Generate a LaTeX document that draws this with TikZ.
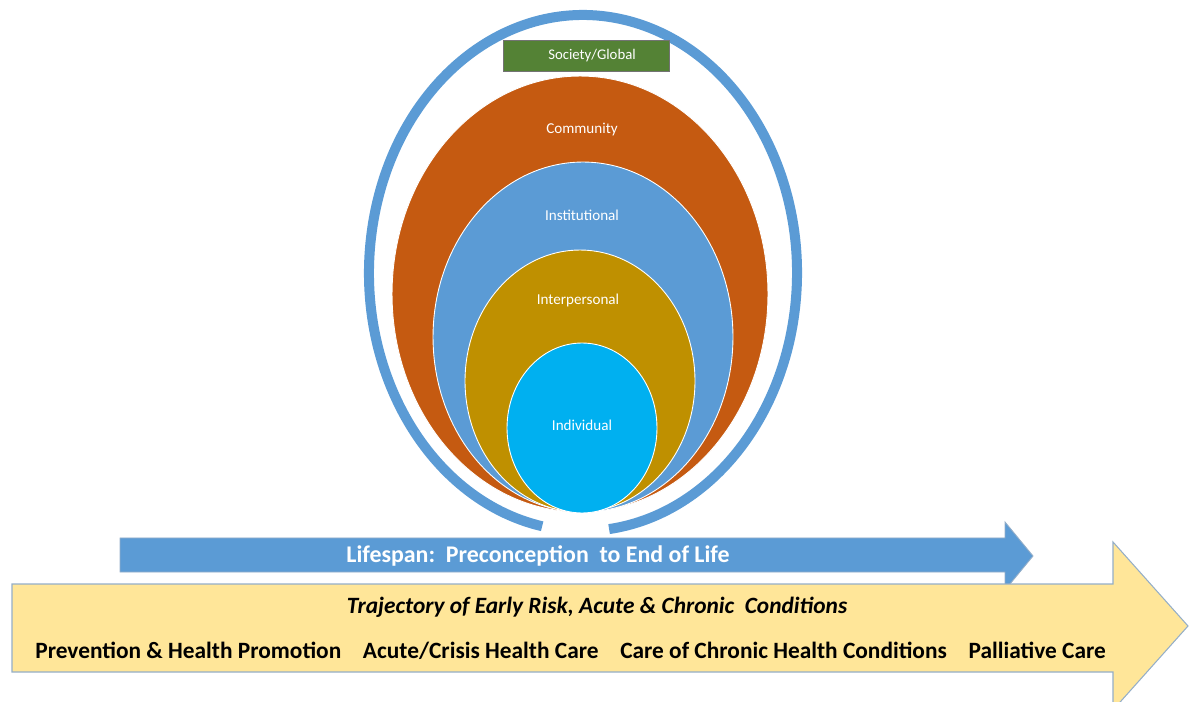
\documentclass[tikz,border=0pt]{standalone}
\usepackage{fontspec}
\setmainfont{Carlito}
\usetikzlibrary{shapes.geometric,positioning}

\definecolor{ringblue}{HTML}{5B9BD5}
\definecolor{commorange}{HTML}{C55A11}
\definecolor{instblue}{HTML}{5B9BD5}
\definecolor{intergold}{HTML}{BF9000}
\definecolor{indivcyan}{HTML}{00B0F0}
\definecolor{socgreen}{HTML}{548235}
\definecolor{trajyellow}{HTML}{FFE699}
\definecolor{edgegray}{HTML}{94AEC8}

\tikzstyle{layer} = [
	ellipse,
	draw=white,
	line width=0.5pt,
	inner sep=0pt
]
\tikzstyle{layerlabel} = [
	text=white,
	inner sep=0pt,
	font=\fontsize{8.6}{10}\selectfont
]
\tikzstyle{phase} = [
	inner sep=0pt,
	text height=10pt,
	text depth=3pt,
	font=\fontsize{13.3}{16}\selectfont\bfseries
]

\begin{document}
\begin{tikzpicture}[x=0.02cm, y=-0.02cm]
	\useasboundingbox (0,0) rectangle (1194,702);
	\clip (0,0) rectangle (1194,702);

	% open ring round the layers
	\draw[ringblue, line width=0.2cm] (583,273) ++(101:214 and 258) arc[start angle=101, end angle=443, x radius=214, y radius=258];

	\node[layer, fill=commorange, minimum width=7.52cm, minimum height=8.72cm] (community) at (580,294) {};
	\node[layer, fill=instblue, minimum width=6cm, minimum height=7cm] (institutional) at (583,337) {};
	\node[layer, fill=intergold, minimum width=4.6cm, minimum height=5.24cm] (interpersonal) at (580,381) {};
	\node[layer, fill=indivcyan, minimum width=3cm, minimum height=3.4cm] (individual) at (582,428) {};

	\node[layerlabel] (communitylabel) at (582,130) {Community};
	\node[layerlabel] (institutionallabel) at (582,215) {Institutional};
	\node[layerlabel] (interpersonallabel) at (578,300) {Interpersonal};
	\node[layerlabel] (individuallabel) at (582,425) {Individual};

	\node[draw=black!55, fill=socgreen, minimum width=3.32cm, minimum height=0.62cm, inner sep=0pt] (society) at (586,55.5) {};
	\node[layerlabel, font=\fontsize{8.4}{10}\selectfont] (societylabel) at (592,56) {Society/Global};

	% lifespan arrow
	\filldraw[fill=ringblue, draw=edgegray, line width=0.5pt] (120,538) -- (1005,538) -- (1005,522) -- (1033,556) -- (1005,590) -- (1005,572) -- (120,572) -- cycle;
	\node[phase, text=white, font=\fontsize{13.6}{16}\selectfont\bfseries] (lifespan) at (538,556) {Lifespan:\ \ Preconception\ \ to End of Life};

	% trajectory arrow
	\filldraw[fill=trajyellow, draw=edgegray, line width=0.6pt] (12,584) -- (1113,584) -- (1113,542) -- (1188,626) -- (1113,710) -- (1113,672) -- (12,672) -- cycle;
	\node[phase, font=\fontsize{13.3}{15}\selectfont\bfseries\itshape] (trajectory) at (597,607) {Trajectory of Early Risk, Acute \& Chronic\ \ Conditions};

	\node[phase, anchor=west] (prevention) at (35,652) {Prevention \& Health Promotion};
	\node[phase, right=0.42cm of prevention] (acute) {Acute/Crisis Health Care};
	\node[phase, right=0.42cm of acute] (chronic) {Care of Chronic Health Conditions};
	\node[phase, right=0.42cm of chronic] (palliative) {Palliative Care};

\end{tikzpicture}
\end{document}
